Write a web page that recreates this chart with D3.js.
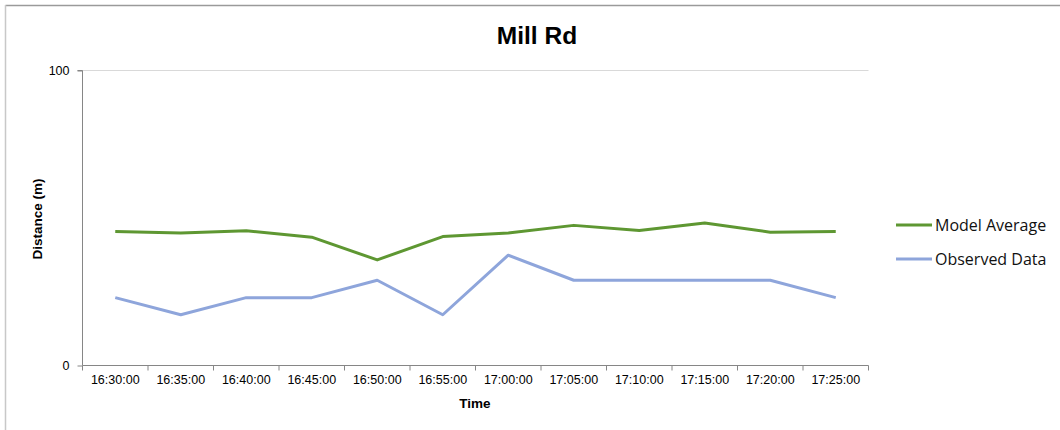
<!DOCTYPE html>
<html><head><meta charset="utf-8">
<script src="https://cdn.jsdelivr.net/npm/d3@7"></script>
<style>body{margin:0;background:#fff;}svg{display:block;font-family:"Liberation Sans",Arial,sans-serif;}</style>
</head><body>
<svg id="c" width="1060" height="430"></svg>
<script>
const categories = ["16:30:00","16:35:00","16:40:00","16:45:00","16:50:00","16:55:00","17:00:00","17:05:00","17:10:00","17:15:00","17:20:00","17:25:00"];
const modelAverage = [45.4,44.9,45.7,43.5,35.8,43.7,44.9,47.5,45.8,48.3,45.2,45.4];
const observedData = [23.0,17.2,23.0,23.0,28.9,17.2,37.4,28.9,28.9,28.9,28.9,23.0];
const yTicks = [0,100];
const seriesNames = ["Model Average","Observed Data"];
const colors = ["#5e9732","#8ea5db"];

const svg = d3.select("#c");
// frame
svg.append("line").attr("x1",5.5).attr("x2",1060).attr("y1",5.5).attr("y2",5.5).attr("stroke","#9a9a9a").attr("stroke-width",1.5);
svg.append("line").attr("x1",5.5).attr("x2",5.5).attr("y1",5).attr("y2",430).attr("stroke","#c8c8c8").attr("stroke-width",1.5);

const L=82.5,R=868.5,T=70.5,B=365.5;
const x = d3.scaleBand().domain(categories).range([L,R]);
const y = d3.scaleLinear().domain([0,100]).range([B,T]);

// top gridline
svg.append("line").attr("x1",L).attr("x2",R).attr("y1",y(100)).attr("y2",y(100)).attr("stroke","#d9d9d9");

// y axis
const ya = svg.append("g").attr("transform",`translate(${L},0)`).call(d3.axisLeft(y).tickValues(yTicks).tickSize(5).tickPadding(8));
ya.select(".domain").attr("stroke","#868686").attr("d",`M-5,${y(100)}H0V${B}`);
ya.selectAll(".tick line").attr("stroke","#868686");
ya.selectAll(".tick text").attr("font-size",12.5).attr("fill","#000").attr("font-family","Liberation Sans, Arial");

// x axis
const xa = svg.append("g").attr("transform",`translate(0,${B})`).call(d3.axisBottom(x).tickSize(0).tickPadding(10));
xa.select(".domain").attr("stroke","#868686").attr("d",`M${L},0H${R}V5`);
xa.selectAll(".tick text").attr("font-size",12.5).attr("fill","#000").attr("font-family","Liberation Sans, Arial");
// tick marks at band boundaries
xa.selectAll(".bt").data(categories).enter().append("line").attr("class","bt")
  .attr("x1",d=>x(d)).attr("x2",d=>x(d)).attr("y1",0).attr("y2",5).attr("stroke","#868686");

const line = d3.line().x((d,i)=>x(categories[i])+x.bandwidth()/2).y(d=>y(d));
[modelAverage,observedData].forEach((s,k)=>{
  svg.append("path").datum(s).attr("d",line).attr("fill","none").attr("stroke",colors[k]).attr("stroke-width",3).attr("stroke-linejoin","round");
});

// titles
svg.append("text").attr("x",537).attr("y",44).attr("text-anchor","middle").attr("font-size",24.5).attr("font-weight","bold").text("Mill Rd");
svg.append("text").attr("transform","translate(42,219) rotate(-90)").attr("text-anchor","middle").attr("font-size",13.5).attr("font-weight","bold").text("Distance (m)");
svg.append("text").attr("x",475).attr("y",408).attr("text-anchor","middle").attr("font-size",13.5).attr("font-weight","bold").text("Time");

// legend
const lg = svg.append("g");
seriesNames.forEach((n,k)=>{
  const yy = 225 + k*34;
  lg.append("line").attr("x1",896).attr("x2",932).attr("y1",yy).attr("y2",yy).attr("stroke",colors[k]).attr("stroke-width",3);
  lg.append("text").attr("x",935).attr("y",yy+6).attr("font-size",16).attr("font-family","Open Sans, sans-serif").attr("fill","#111").text(n);
});
</script>
</body></html>
